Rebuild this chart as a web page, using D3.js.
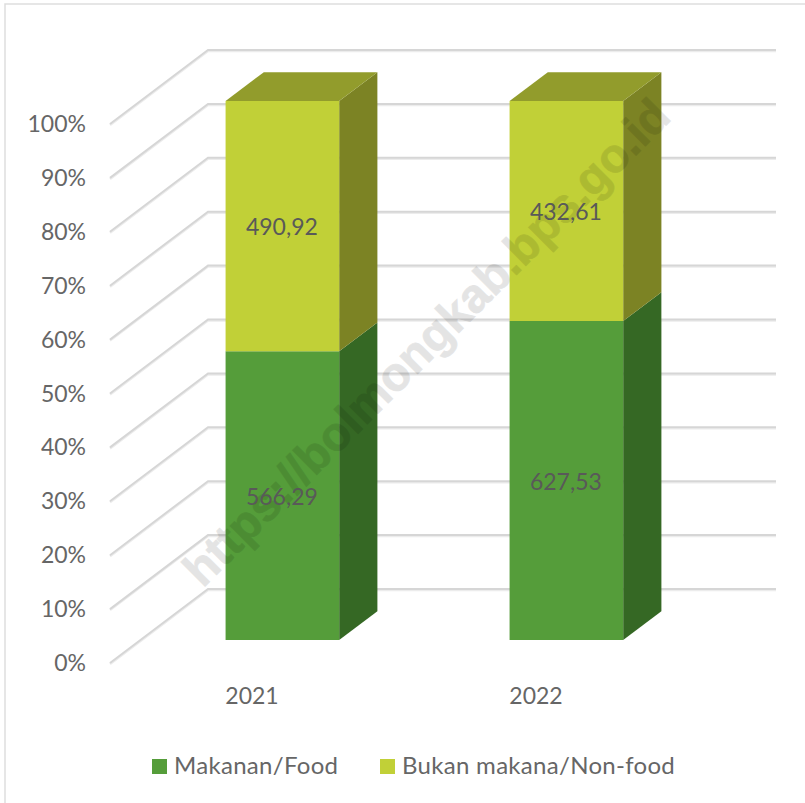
<!DOCTYPE html>
<html>
<head>
<meta charset="utf-8">
<script src="https://cdn.jsdelivr.net/npm/d3@7"></script>
<style>
  html, body { margin: 0; padding: 0; background: #fff; }
  svg { display: block; }
  text { font-family: Lato, "Open Sans", sans-serif; }
</style>
</head>
<body>
<div id="chart"></div>
<script>
var years = ['2021', '2022'];
var food = [566.29, 627.53];
var nonFood = [490.92, 432.61];
var foodLabels = ['566,29', '627,53'];
var nonFoodLabels = ['490,92', '432,61'];
var seriesNames = ['Makanan/Food', 'Bukan makana/Non-food'];
var percentTicks = [0, 0.1, 0.2, 0.3, 0.4, 0.5, 0.6, 0.7, 0.8, 0.9, 1];
var watermark = 'https://bolmongkab.bps.go.id';

var width = 805, height = 803;

var svg = d3.select('#chart').append('svg')
  .attr('width', width)
  .attr('height', height);

// chart frame, only top and left show in the picture
svg.append('path')
  .attr('d', 'M5,803V4H805')
  .attr('fill', 'none')
  .attr('stroke', '#dedede')
  .attr('stroke-width', 1.5);

// front plane scales, depth is added on top of them
var x = d3.scaleBand().domain(years).range([110, 678]).paddingInner(0.6).paddingOuter(0.3);
var y = d3.scaleLinear().domain([0, 1]).range([663, 124]);
var depthX = 98, depthY = -74;

function project(px, py, t) {
  return [px + depthX * t, py + depthY * t];
}

var poly = d3.line();

// gridlines: side wall and back wall
var grid = svg.append('g').attr('fill', 'none');
percentTicks.forEach(function(d) {
  var pts = [project(110, y(d), 0), project(110, y(d), 1), [776, y(d) + depthY]];
  grid.append('path').attr('d', poly(pts.map(function(p) { return [p[0], p[1] + 1]; })))
    .attr('stroke', '#ececec').attr('stroke-width', 2.5);
  grid.append('path').attr('d', poly(pts))
    .attr('stroke', '#d6d6d6').attr('stroke-width', 2);
});

// axis labels
svg.append('g').selectAll('text')
  .data(percentTicks)
  .enter().append('text')
  .attr('x', 86)
  .attr('y', function(d) { return y(d); })
  .attr('dy', '0.35em')
  .attr('text-anchor', 'end')
  .attr('font-size', 23)
  .attr('fill', '#666')
  .text(function(d) { return Math.round(d * 100) + '%'; });

svg.append('g').selectAll('text')
  .data(years)
  .enter().append('text')
  .attr('x', function(d) { return x(d) + x.bandwidth() / 2; })
  .attr('y', 704)
  .attr('text-anchor', 'middle')
  .attr('font-size', 23)
  .attr('fill', '#666')
  .text(function(d) { return d; });

// bars
var frontT = 0.31, backT = 0.70;
var stacks = [
  { name: seriesNames[0], values: food, labels: foodLabels, front: '#559d3a', side: '#356824', top: '#559d3a' },
  { name: seriesNames[1], values: nonFood, labels: nonFoodLabels, front: '#c1d037', side: '#7c8324', top: '#929c2c' }
];

function share(i, v) { return v / (food[i] + nonFood[i]); }

years.forEach(function(year, i) {
  var bar = svg.append('g');
  var left = x(year), right = x(year) + x.bandwidth();
  var start = 0;
  stacks.forEach(function(s, k) {
    var end = start + share(i, s.values[i]);
    var a = project(left, y(start), frontT), b = project(right, y(start), frontT);
    var c = project(right, y(end), frontT), e = project(left, y(end), frontT);
    var bb = project(right, y(start), backT), bc = project(right, y(end), backT);
    var be = project(left, y(end), backT);

    bar.append('path').attr('d', poly([b, bb, bc, c]) + 'Z').attr('fill', s.side);
    if (k === stacks.length - 1) {
      bar.append('path').attr('d', poly([e, c, bc, be]) + 'Z').attr('fill', s.top);
    }
    bar.append('path').attr('d', poly([a, b, c, e]) + 'Z').attr('fill', s.front);
    start = end;
  });
});

// watermark sits above the bars but below the value labels
svg.append('text')
  .attr('transform', 'translate(426,342) rotate(-45)')
  .attr('text-anchor', 'middle')
  .attr('dy', '0.35em')
  .attr('font-size', 47.5)
  .attr('font-weight', 700)
  .style('font-family', '"Liberation Sans", Arial, sans-serif')
  .attr('fill', '#000')
  .attr('stroke', '#000')
  .attr('stroke-width', 0.8)
  .attr('opacity', 0.1)
  .text(watermark);

// value labels
years.forEach(function(year, i) {
  var cx = x(year) + x.bandwidth() / 2;
  var start = 0;
  stacks.forEach(function(s) {
    var end = start + share(i, s.values[i]);
    var p = project(cx, y((start + end) / 2), frontT);
    svg.append('text')
      .attr('x', p[0] - 0.5).attr('y', p[1] + 1)
      .attr('dy', '0.35em')
      .attr('text-anchor', 'middle')
      .attr('font-size', 23)
      .attr('fill', '#595959')
      .text(s.labels[i]);
    start = end;
  });
});

// legend
var legend = svg.append('g');
var legendX = [152, 380];
stacks.forEach(function(s, k) {
  legend.append('rect')
    .attr('x', legendX[k]).attr('y', 759)
    .attr('width', 15).attr('height', 15)
    .attr('fill', s.front);
  legend.append('text')
    .attr('x', legendX[k] + 22).attr('y', 774)
    .attr('font-size', 24)
    .attr('letter-spacing', 0.3)
    .attr('fill', '#666')
    .text(s.name);
});
</script>
</body>
</html>
